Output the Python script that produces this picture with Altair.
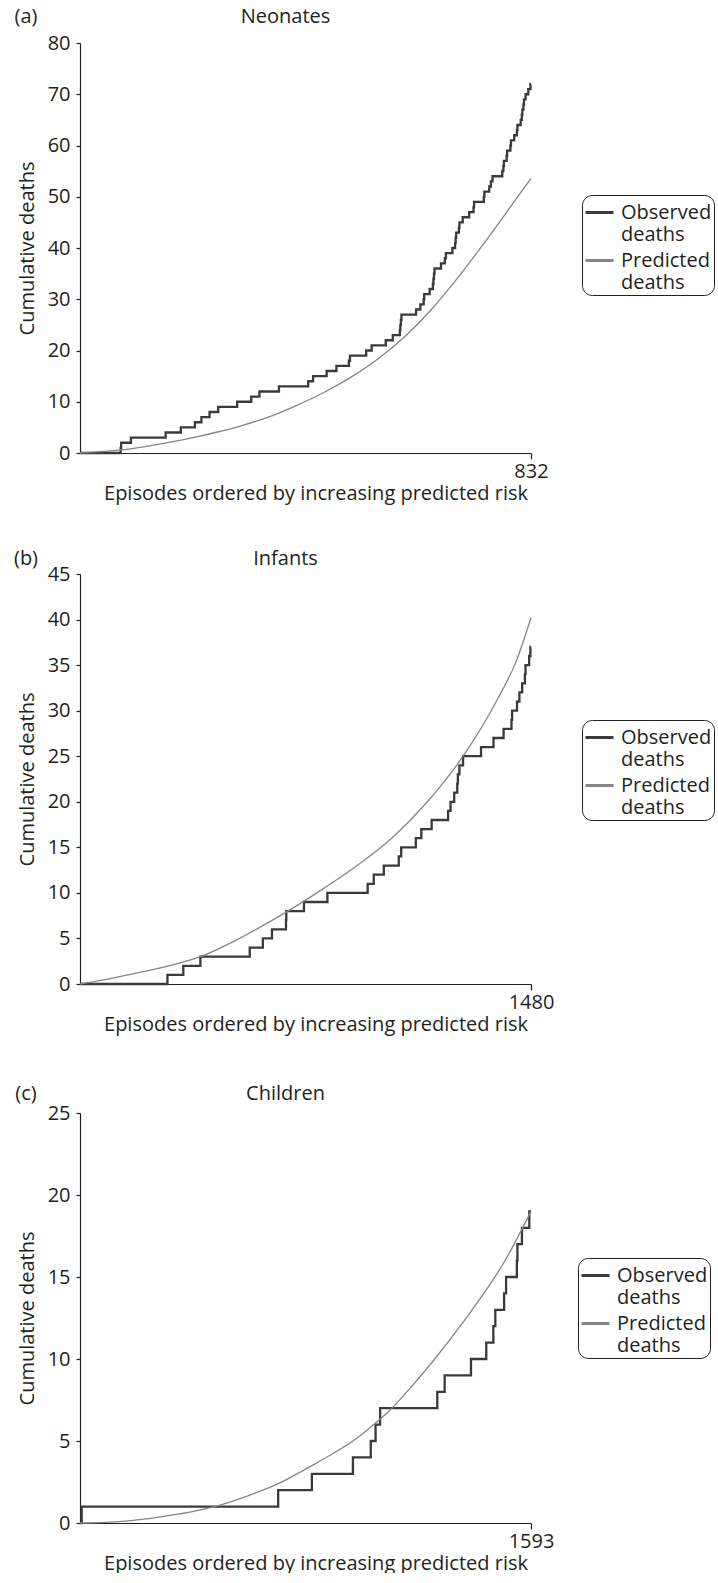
import altair as alt
import pandas as pd

FONT = "Open Sans"
INK = "#231f20"
SERIES = ["Observed deaths", "Predicted deaths"]
SERIES_COLORS = ["#3a3a3a", "#858585"]
X_TITLE = "Episodes ordered by increasing predicted risk"
Y_TITLE = "Cumulative deaths"

# ---- (a) Neonates: 832 episodes ----
neo_n = 832
neo_death_episodes = [75, 76, 94, 158, 186, 212, 224, 239, 255, 290, 316, 331, 367,
                      421, 430, 455, 473, 496, 498, 528, 538, 564, 577, 590, 591, 592,
                      593, 620, 628, 634, 635, 645, 651, 652, 653, 654, 666, 673, 675,
                      687, 692, 693, 694, 699, 700, 706, 718, 726, 727, 745, 746, 755,
                      758, 761, 779, 781, 782, 787, 788, 794, 795, 801, 806, 807, 813,
                      815, 816, 818, 819, 822, 827, 831]
neo_pred_episode = [0, 76, 150, 200, 250, 300, 350, 400, 450, 500, 550, 600, 650, 700,
                    750, 800, 832]
neo_pred_deaths = [0, 0.6, 1.8, 2.8, 4.0, 5.4, 7.1, 9.3, 11.8, 14.8, 18.4, 22.8, 28.2,
                   34.6, 41.6, 48.9, 53.6]

# ---- (b) Infants: 1480 episodes ----
inf_n = 1480
inf_death_episodes = [287, 339, 395, 557, 600, 630, 676, 677, 735, 812, 944, 964, 997,
                      1046, 1054, 1102, 1120, 1154, 1208, 1216, 1228, 1238, 1240, 1245,
                      1257, 1316, 1357, 1390, 1416, 1418, 1434, 1442, 1451, 1460, 1462,
                      1474, 1478]
inf_pred_episode = [0, 100, 200, 287, 395, 500, 600, 682, 800, 905, 1023, 1140, 1257,
                    1374, 1430, 1480]
inf_pred_deaths = [0, 0.6, 1.3, 1.95, 3.0, 4.6, 6.4, 8.0, 10.5, 12.9, 16.0, 20.0, 25.0,
                   31.5, 35.3, 40.2]

# ---- (c) Children: 1593 episodes ----
chi_n = 1593
chi_death_episodes = [6, 700, 819, 964, 1027, 1044, 1060, 1262, 1288, 1381, 1435, 1460,
                      1467, 1498, 1505, 1543, 1545, 1561, 1587]
chi_pred_episode = [0, 110, 236, 350, 476, 600, 700, 819, 900, 964, 1044, 1090, 1170,
                    1262, 1381, 1498, 1593]
chi_pred_deaths = [0, 0.05, 0.25, 0.55, 1.0, 1.7, 2.4, 3.5, 4.3, 5.0, 6.1, 6.8, 8.3,
                   10.2, 12.9, 15.9, 19.0]

PLOT_W = 451
PLOT_H = 410


def observed_frame(death_episodes, n):
    """Cumulative count of observed deaths, stepping up at each death."""
    episodes = [0] + list(death_episodes) + [n]
    counts = list(range(len(death_episodes) + 1)) + [len(death_episodes)]
    return pd.DataFrame({"episode": episodes, "deaths": counts,
                         "series": SERIES[0]})


def predicted_frame(episodes, deaths):
    return pd.DataFrame({"episode": episodes, "deaths": deaths, "series": SERIES[1]})


def heading(text, x_px, y_px):
    return alt.Chart(pd.DataFrame({"label": [text]})).mark_text(
        font=FONT, fontSize=20, color=INK, align="center", baseline="middle"
    ).encode(text="label:N", x=alt.value(x_px), y=alt.value(y_px))


def panel(tag, title, n, y_max, y_step, death_episodes, pred_ep, pred_val,
          title_gap, legend_x, legend_y):
    x = alt.X(
        "episode:Q",
        scale=alt.Scale(domain=[0, n], nice=False, zero=True),
        axis=alt.Axis(values=[n], format="d", title=X_TITLE, tickSize=6,
                      labelPadding=2, titlePadding=2, grid=False, labelFlush=False,
                      titleX=PLOT_W / 2 + 10),
    )
    y = alt.Y(
        "deaths:Q",
        scale=alt.Scale(domain=[0, y_max], nice=False),
        axis=alt.Axis(values=list(range(0, y_max + 1, y_step)), title=Y_TITLE,
                      tickSize=4, labelPadding=6, titlePadding=10, grid=False),
    )
    color = alt.Color(
        "series:N",
        scale=alt.Scale(domain=SERIES, range=SERIES_COLORS),
        legend=alt.Legend(
            orient="none", legendX=legend_x, legendY=legend_y, title=None,
            labelExpr="split(datum.label, ' ')", labelFont=FONT, labelFontSize=20,
            labelColor=INK, labelLimit=300, labelOffset=6, symbolType="stroke",
            symbolStrokeWidth=3, symbolSize=784, strokeColor=INK, cornerRadius=10,
            padding=2, rowPadding=-9, fillColor="white",
        ),
    )
    obs = alt.Chart(observed_frame(death_episodes, n)).mark_line(
        interpolate="step-after", strokeWidth=2.3
    ).encode(x=x, y=y, color=color)
    pred = alt.Chart(predicted_frame(pred_ep, pred_val)).mark_line(
        interpolate="monotone", strokeWidth=1.3
    ).encode(x=x, y=y, color=color)
    return alt.layer(
        obs, pred,
        heading(tag, -54, -title_gap),
        heading(title, PLOT_W / 2 - 20, -title_gap),
    ).properties(width=PLOT_W, height=PLOT_H)


neo = panel("(a)", "Neonates", neo_n, 80, 10, neo_death_episodes,
            neo_pred_episode, neo_pred_deaths, 26, 502, 152)
inf = panel("(b)", "Infants", inf_n, 45, 5, inf_death_episodes,
            inf_pred_episode, inf_pred_deaths, 15, 502, 146)
chi = panel("(c)", "Children", chi_n, 25, 5, chi_death_episodes,
            chi_pred_episode, chi_pred_deaths, 19, 498, 145)

top = alt.vconcat(neo, inf, spacing=46).resolve_scale(
    x="independent", y="independent", color="independent")
chart = alt.vconcat(top, chi, spacing=50).resolve_scale(
    x="independent", y="independent", color="independent"
).properties(
    padding={"left": 13, "top": 7, "right": 0, "bottom": 0},
).configure(background="white").configure_view(stroke=None).configure_axis(
    labelFont=FONT, titleFont=FONT, labelFontSize=20, titleFontSize=20,
    titleFontWeight="normal", labelColor=INK, titleColor=INK, domainColor=INK,
    tickColor=INK, domainWidth=1.2, tickWidth=1.2,
)

chart.save("out.html", embed_options={"renderer": "svg", "actions": False})
